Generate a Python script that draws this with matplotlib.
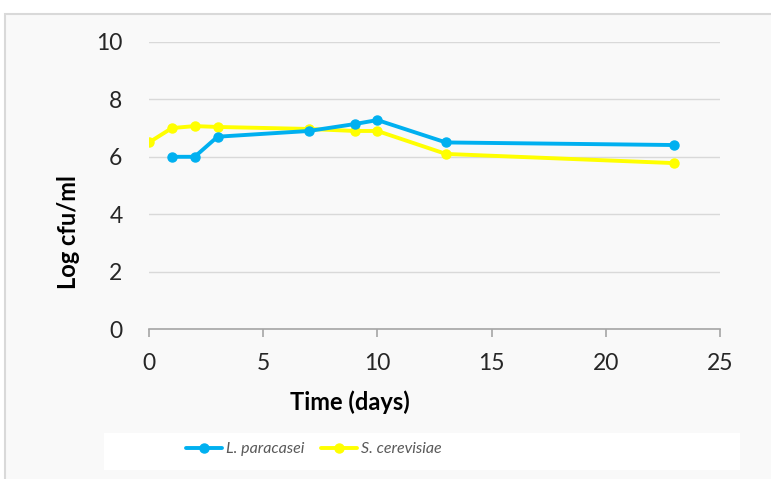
import matplotlib.pyplot as plt
from matplotlib.patches import Rectangle

days = [0, 1, 2, 3, 7, 9, 10, 13, 23]
l_paracasei_days = [1, 2, 3, 7, 9, 10, 13, 23]
l_paracasei = [6.0, 6.0, 6.7, 6.9, 7.14, 7.28, 6.5, 6.41]
s_cerevisiae = [6.5, 7.0, 7.07, 7.04, 6.97, 6.9, 6.9, 6.1, 5.78]
x_ticks = [0, 5, 10, 15, 20, 25]
y_ticks = [0, 2, 4, 6, 8, 10]

plt.rcParams['font.family'] = ['Lato', 'DejaVu Sans']

W, H = 771, 479
fig = plt.figure(figsize=(W / 100, H / 100), dpi=100, facecolor='white')

# chart-area panel
fig.patches.append(Rectangle((5 / W, -0.01), 1.0, 1 - 14 / H + 0.01,
                             transform=fig.transFigure, facecolor='#f9f9f9',
                             edgecolor='#d9d9d9', linewidth=1.5, zorder=0))
# legend panel
fig.patches.append(Rectangle((104 / W, 1 - 470 / H), 636 / W, 37 / H,
                             transform=fig.transFigure, facecolor='white',
                             edgecolor='none', zorder=1))

ax = fig.add_axes([149 / W, 1 - 329 / H, (720 - 149) / W, (329 - 42) / H])
ax.set_facecolor('none')
ax.set_zorder(5)

blue = '#00b0f0'
yellow = '#ffff00'
ax.plot(days, s_cerevisiae, color=yellow, lw=2.8, marker='o', ms=6.5,
        label='S. cerevisiae', zorder=3, solid_capstyle='round')
ax.plot(l_paracasei_days, l_paracasei, color=blue, lw=2.8, marker='o', ms=6.5,
        label='L. paracasei', zorder=4, solid_capstyle='round')

ax.set_xlim(0, 25)
ax.set_ylim(0, 10)
ax.set_xticks(x_ticks)
ax.set_yticks(y_ticks)
ax.yaxis.grid(True, color='#d9d9d9', lw=1)
ax.set_axisbelow(True)
for s in ['top', 'right', 'left']:
    ax.spines[s].set_visible(False)
ax.spines['bottom'].set_color('#a6a6a6')
ax.spines['bottom'].set_linewidth(1.2)
ax.tick_params(axis='x', length=6, color='#a6a6a6', width=1.2, pad=11,
               labelsize=16.5, labelcolor='#262626')
ax.tick_params(axis='y', length=0, pad=19, labelsize=16.5, labelcolor='#262626')

ax.set_xlabel('Time (days)', fontsize=17, fontweight='bold', va='center')
ax.set_ylabel('Log cfu/ml', fontsize=17, fontweight='bold', va='center')
ax.xaxis.set_label_coords((350 - 149) / 571, (329 - 402) / 287)
ax.yaxis.set_label_coords((69 - 149) / 571, (329 - 232) / 287)

handles, labels = ax.get_legend_handles_labels()
leg = fig.legend(handles[::-1], labels[::-1], loc='center left',
                 bbox_to_anchor=(172 / W, 1 - 449 / H), ncol=2, frameon=False,
                 handlelength=2.2, handletextpad=0.25, columnspacing=1.1,
                 prop={'style': 'italic', 'size': 11.5})
leg.set_zorder(6)
for t in leg.get_texts():
    t.set_color('#595959')

fig.savefig('out.png', dpi=100, facecolor='white')
